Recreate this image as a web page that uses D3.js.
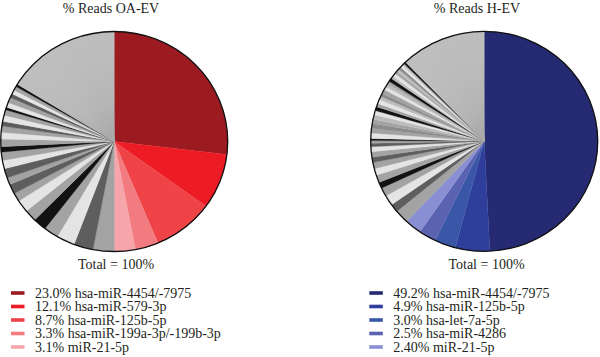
<!DOCTYPE html>
<html>
<head>
<meta charset="utf-8">
<script src="https://cdn.jsdelivr.net/npm/d3@7/dist/d3.min.js"></script>
<style>
  html, body { margin: 0; padding: 0; background: #fff; }
  svg { display: block; }
  text { font-family: "Liberation Serif", "DejaVu Serif", serif; fill: #231f20; }
</style>
</head>
<body>
<svg id="chart" width="600" height="357"></svg>
<script>
// ---------- DATA ----------
const oaTitle = "% Reads OA-EV";
const hTitle = "% Reads H-EV";
const totalLabel = "Total = 100%";

const oaLabels = ["23.0% hsa-miR-4454/-7975", "12.1% hsa-miR-579-3p", "8.7% hsa-miR-125b-5p",
                  "3.3% hsa-miR-199a-3p/-199b-3p", "3.1% miR-21-5p"];
// slice sizes (% of circle) as drawn in the figure
const oaNamed = [26.9, 8.1, 8.7, 3.3, 3.0];
const oaOther = [3.0, 2.75, 2.6, 2.1, 1.9, 1.75, 1.8, 1.25, 1.45, 1.0, 1.4, 1.25, 1.2, 0.8,
                 1.1, 1.0, 0.9, 0.7, 0.9, 0.8, 0.4, 0.7, 0.8, 0.6, 0.6, 0.6, 0.35];
const oaRest = 16.3;

const hLabels = ["49.2% hsa-miR-4454/-7975", "4.9% hsa-miR-125b-5p", "3.0% hsa-let-7a-5p",
                 "2.5% hsa-miR-4286", "2.40% miR-21-5p"];
const hNamed = [49.2, 4.9, 3.0, 2.5, 2.4];
const hOther = [2.0, 1.2, 1.5, 1.3, 0.9, 1.1, 1.0, 0.9, 0.8, 0.8, 0.7, 0.5, 0.4, 0.3,
                0.8, 0.7, 0.7, 0.6, 0.7, 0.6, 0.6, 0.5, 0.6, 0.5, 0.5, 0.6,
                0.5, 0.5, 0.4, 0.5, 0.4, 0.5, 0.4, 0.4, 0.4, 0.4, 0.3, 0.3];
const hRest = 12.2;

// ---------- STYLES ----------
const oaColors = ["#9b1b20", "#ed1c24", "#ef4348", "#f27b80", "#f6a6ab"];
const hColors = ["#262a72", "#2e3e9a", "#3a56a7", "#5a63b2", "#8a8fd3"];
const shadeMap = { g: "#a3a3a3", d: "#5e5e5e", l: "#e4e4e4", k: "#121212", m: "#bcbcbc", n: "#8c8c8c" };
const oaShades = "gdlgkglgdgdlgk" + "glgdlgklgdlgk";
const hShades = "gdlgkglgdgldgk" + "lgngmlkglmng" + "lmgkmlgmnlmk";
const restFill = "#c4c4c4";

const svg = d3.select("#chart");

function drawPie(cx, cy, named, namedColors, other, shades, rest, title, titleX, labels, legX, totalX) {
  const values = named.concat(other, [rest]);
  const colors = namedColors.concat(other.map((_, i) => shadeMap[shades[i]] || "#a3a3a3"), [restFill]);
  const r = 110;
  const g = svg.append("g").attr("transform", `translate(${cx},${cy}) scale(1.032,1)`);
  const pie = d3.pie().sort(null).value(d => d)(values);
  const arc = d3.arc().innerRadius(0).outerRadius(r);
  g.selectAll("path.slice").data(pie).join("path")
    .attr("class", "slice")
    .attr("d", arc)
    .attr("fill", (d, i) => colors[i])
    .attr("stroke", (d, i) => colors[i])
    .attr("stroke-width", 0.3);
  // fine texture in the remaining slice
  const last = pie[pie.length - 1];
  const n = Math.floor((last.endAngle - last.startAngle) / 0.012);
  const angs = d3.range(1, n).map(k => last.startAngle + k * (last.endAngle - last.startAngle) / n);
  g.selectAll("line.tex").data(angs).join("line")
    .attr("class", "tex")
    .attr("x1", 0).attr("y1", 0)
    .attr("x2", a => r * Math.sin(a)).attr("y2", a => -r * Math.cos(a))
    .attr("stroke", "#aaaaaa").attr("stroke-width", 0.35);
  g.append("circle").attr("r", r).attr("fill", "none")
    .attr("stroke", "#111").attr("stroke-width", 1.3).attr("vector-effect", "non-scaling-stroke");

  svg.append("text").attr("x", titleX).attr("y", 13).attr("text-anchor", "middle")
    .style("font-size", "14px").text(title);
  svg.append("text").attr("x", totalX).attr("y", 269).attr("text-anchor", "middle")
    .style("font-size", "14px").text(totalLabel);

  const y = d3.scalePoint().domain(d3.range(labels.length)).range([293, 347]);
  const lg = svg.append("g");
  lg.selectAll("rect").data(labels).join("rect")
    .attr("x", legX).attr("y", (d, i) => y(i) - 1.8)
    .attr("width", 13.5).attr("height", 3.6)
    .attr("fill", (d, i) => namedColors[i]);
  lg.selectAll("text").data(labels).join("text")
    .attr("x", legX + 24).attr("y", (d, i) => y(i)).attr("dy", "0.34em")
    .style("font-size", "14px").text(d => d);
}

drawPie(114.2, 141.5, oaNamed, oaColors, oaOther, oaShades, oaRest, oaTitle, 111, oaLabels, 11, 116);
drawPie(484.2, 141.3, hNamed, hColors, hOther, hShades, hRest, hTitle, 477, hLabels, 369.3, 486.5);
</script>
</body>
</html>
